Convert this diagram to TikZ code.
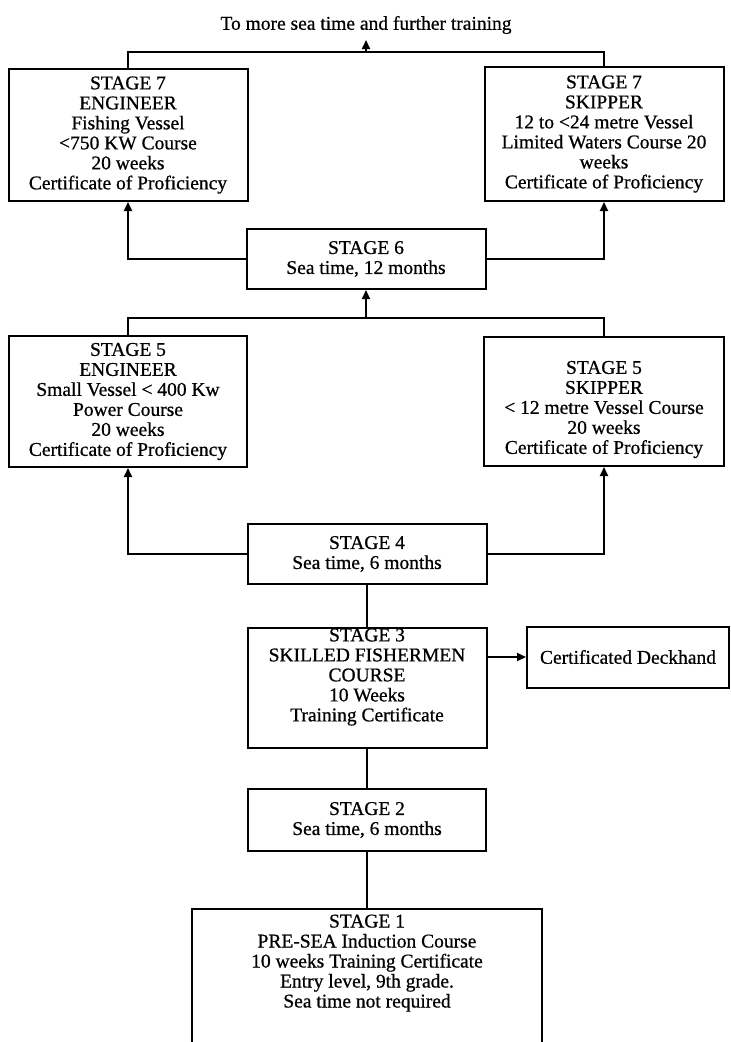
\documentclass[tikz,border=0pt]{standalone}
\usepackage{fontspec}
\setmainfont{Liberation Serif}[FakeBold=0.7]
\usetikzlibrary{arrows.meta}
\newcommand{\diagfont}{\fontsize{19.5pt}{20pt}\selectfont}
\begin{document}
\begin{tikzpicture}[x=1pt,y=-1pt,
  box/.style={draw,line width=2pt,align=center,inner sep=0pt,font=\diagfont},
  txt/.style={align=center,inner sep=0pt,font=\diagfont},
  conn/.style={line width=1.8pt},
  arr/.style={line width=1.8pt,-{Triangle[length=9pt,width=8pt]}}]
\useasboundingbox (0,0) rectangle (731,1042);
\clip (0,0) rectangle (731,1042);
% title
\node[txt] (title) at (366,25) {To more sea time and further training};
\coordinate (tip) at (366,40);
\coordinate (jtop) at (366,52);
% stage 7
\node[box,minimum width=239pt,minimum height=132pt] (s7l) at (128,135)
  {STAGE 7\\ENGINEER\\Fishing Vessel\\<750 KW Course\\20 weeks\\Certificate of Proficiency};
\node[box,minimum width=239pt,minimum height=134pt] (s7r) at (604,134)
  {STAGE 7\\SKIPPER\\12 to <24 metre Vessel\\Limited Waters Course 20\\weeks\\Certificate of Proficiency};
% stage 6
\node[box,minimum width=239pt,minimum height=60pt] (s6) at (366,259)
  {STAGE 6\\Sea time, 12 months};
\coordinate (j56) at (366,318);
% stage 5
\node[box,minimum width=238pt,minimum height=131pt] (s5l) at (128,401.5)
  {STAGE 5\\ENGINEER\\Small Vessel < 400 Kw\\Power Course\\20 weeks\\Certificate of Proficiency};
\node[box,minimum width=240pt,minimum height=129pt] (s5r) at (604,401.5) {};
\node[txt] (s5rt) at (604,409.5)
  {STAGE 5\\SKIPPER\\< 12 metre Vessel Course\\20 weeks\\Certificate of Proficiency};
% stage 4
\node[box,minimum width=239pt,minimum height=60pt] (s4) at (367,554)
  {STAGE 4\\Sea time, 6 months};
% stage 3
\node[box,minimum width=239pt,minimum height=120pt] (s3) at (367,688) {};
\node[txt] (s3t) at (367,677)
  {STAGE 3\\SKILLED FISHERMEN\\COURSE\\10 Weeks\\Training Certificate};
\node[box,minimum width=202pt,minimum height=61pt] (deck) at (628,657)
  {Certificated Deckhand};
% stage 2
\node[box,minimum width=238pt,minimum height=62pt] (s2) at (367,820)
  {STAGE 2\\Sea time, 6 months};
% stage 1
\node[box,anchor=north] (s1) at (367,908)
  {\begin{minipage}[t][150pt][t]{350pt}\centering\diagfont
   \rule{0pt}{18.5pt}STAGE 1\\PRE-SEA Induction Course\\10 weeks Training Certificate\\Entry level, 9th grade.\\Sea time not required\end{minipage}};
% connectors
\draw[conn] (s7l.north) |- (jtop) -| (s7r.north);
\draw[arr] (jtop) -- (tip);
\draw[arr] (s6.west) -| (s7l.south);
\draw[arr] (s6.east) -| (s7r.south);
\draw[conn] (s5l.north) |- (j56) -| (s5r.north);
\draw[arr] (j56) -- (s6.south);
\draw[arr] (s4.west) -| (s5l.south);
\draw[arr] (s4.east) -| (s5r.south);
\draw[conn] (s3.north) -- (s3.north |- s4.south);
\draw[arr] (s3.east |- deck.west) -- (deck.west);
\draw[conn] (s2.north) -- (s2.north |- s3.south);
\draw[conn] (s1.north) -- (s1.north |- s2.south);
\end{tikzpicture}
\end{document}
